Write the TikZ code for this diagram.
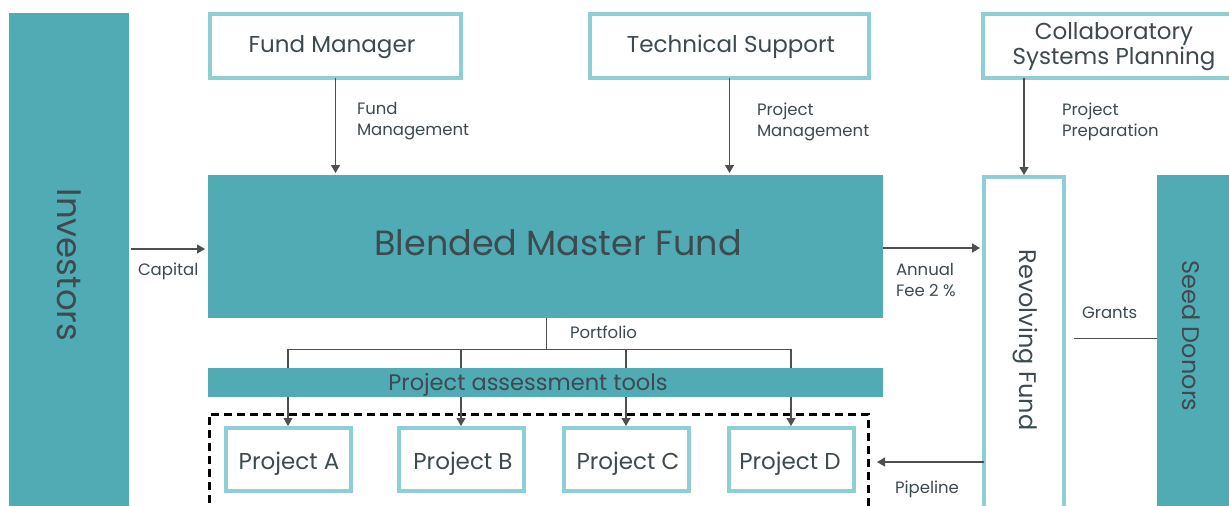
\documentclass[tikz,border=0pt]{standalone}
\usepackage{fontspec}
\setmainfont{Poppins}
\usetikzlibrary{arrows.meta}
\definecolor{teal1}{HTML}{50ABB5}
\definecolor{teal2}{HTML}{8ECED5}
\definecolor{txt}{HTML}{3D4A50}
\definecolor{arr}{HTML}{4F4F4F}
\begin{document}
\begin{tikzpicture}[x=1pt,y=-1pt,
  every node/.style={outer sep=0pt, inner sep=0pt, text=txt},
  solidbox/.style={fill=teal1, draw=none},
  linebox/.style={draw=teal2, line width=4pt, fill=white},
  conn/.style={draw=arr, line width=1.1pt, -{Triangle[width=9pt,length=8pt]}},
  plain/.style={draw=arr, line width=1pt},
  lab/.style={font=\fontsize{16.5}{21}\selectfont, align=left, anchor=north west},
  boxtxt/.style={font=\fontsize{23}{21}\selectfont},
]
\clip (0,0) rectangle (1229,506);
\fill[white] (0,0) rectangle (1229,506);

% main boxes
\node[solidbox, minimum width=120pt, minimum height=510pt] (inv) at (69,268) {};
\node[font=\fontsize{34}{36}\selectfont, rotate=-90] (invt) at (69,265) {Investors};

\node[linebox, minimum width=251pt, minimum height=64pt] (fm) at (335.5,46) {};
\node[boxtxt] (fmt) at (332,47) {Fund Manager};

\node[linebox, minimum width=279pt, minimum height=64pt] (ts) at (729.5,46) {};
\node[boxtxt] (tst) at (731,47) {Technical Support};

\node[linebox, minimum width=260pt, minimum height=64pt] (csp) at (1113,46) {};
\node[font=\fontsize{23}{20.5}\selectfont, align=center] (cspt) at (1114,46.5) {Collaboratory\\Systems Planning};

\node[solidbox, minimum width=675pt, minimum height=143pt] (bmf) at (545.5,246.5) {};
\node[font=\fontsize{35}{40}\selectfont] (bmft) at (558,243) {Blended Master Fund};

\node[linebox, minimum width=80pt, minimum height=360pt] (rf) at (1024,357) {};
\node[font=\fontsize{24}{28}\selectfont, rotate=-90] (rft) at (1025,340) {Revolving Fund};

\node[solidbox, minimum width=90pt, minimum height=350pt] (sd) at (1202,350) {};
\node[font=\fontsize{24}{28}\selectfont, rotate=-90] (sdt) at (1191,336) {Seed Donors};

% dashed pipeline box
\node[draw=black, line width=3pt, dash pattern=on 8pt off 5pt, minimum width=659pt, minimum height=200pt] (pipe) at (538.5,514) {};

% portfolio tree
\coordinate (pj) at (546,349);
\coordinate (ta) at (288,349);
\coordinate (tb) at (461,349);
\coordinate (tc) at (626,349);
\coordinate (td) at (791,349);

\node[linebox, minimum width=125pt, minimum height=63pt] (pa) at (288.5,459.5) {};
\node[boxtxt] (pat) at (289,464) {Project A};
\node[linebox, minimum width=125pt, minimum height=63pt] (pb) at (461.5,459.5) {};
\node[boxtxt] (pbt) at (463,464) {Project B};
\node[linebox, minimum width=125pt, minimum height=63pt] (pc) at (626.5,459.5) {};
\node[boxtxt] (pct) at (628,464) {Project C};
\node[linebox, minimum width=125pt, minimum height=63pt] (pd) at (791.5,459.5) {};
\node[boxtxt] (pdt) at (790,464) {Project D};

\draw[plain] (bmf.south -| pj) -- (pj);
\draw[plain] (ta) -- (td);
\draw[conn, shorten >=2pt] (ta) -- (ta |- pa.north);
\draw[conn, shorten >=2pt] (tb) -- (tb |- pb.north);
\draw[conn, shorten >=2pt] (tc) -- (tc |- pc.north);
\draw[conn, shorten >=2pt] (td) -- (td |- pd.north);

\node[solidbox, minimum width=675pt, minimum height=29pt] (patb) at (545.5,382.5) {};
\node[font=\fontsize{22.5}{24}\selectfont] (patt) at (528,385) {Project assessment tools};

% connectors
\draw[conn, shorten >=2pt] (fm.south) -- (fm.south |- bmf.north);
\draw[conn, shorten >=2pt] (ts.south) -- (ts.south |- bmf.north);
\draw[conn, shorten >=2pt] (csp.south -| rf) -- (rf.north);
\draw[conn, shorten <=2pt, shorten >=3pt] ([yshift=-2.5pt]bmf.west -| inv.east) -- ([yshift=-2.5pt]bmf.west);
\draw[conn, shorten >=4pt] ([yshift=-1.5pt]bmf.east) -- ([yshift=-1.5pt]bmf.east -| rf.west);
\draw[plain, shorten <=10pt] (rf.east |- 0,338) -- (sd.west |- 0,338);
\draw[conn, shorten >=9pt] (rf.west |- 0,462) -- (pipe.east |- 0,462);

% labels
\node[lab] (l1) at (357,102.5) {Fund\\Management};
\node[lab] (l2) at (757,102.5) {Project\\Management};
\node[lab] (l3) at (1062,102.5) {Project\\Preparation};
\node[lab] (l4) at (138,262.5) {Capital};
\node[lab] (l5) at (896,263) {Annual\\Fee 2 \%};
\node[lab] (l6) at (1082,307) {Grants};
\node[lab] (l7) at (570,325.5) {Portfolio};
\node[lab] (l8) at (895,480.5) {Pipeline};
\end{tikzpicture}
\end{document}
